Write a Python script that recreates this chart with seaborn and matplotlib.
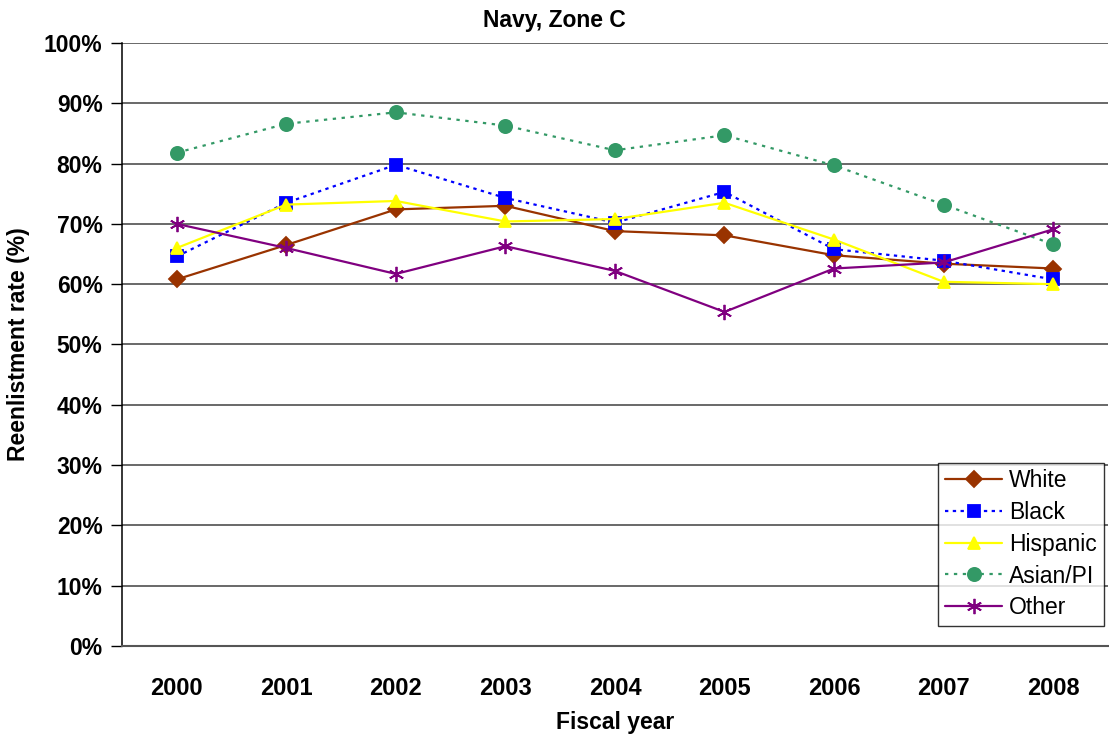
import pandas as pd
import matplotlib
matplotlib.use("Agg")
import matplotlib.pyplot as plt
import seaborn as sns

# values (%)
years = [2000, 2001, 2002, 2003, 2004, 2005, 2006, 2007, 2008]
white = [60.8, 66.5, 72.4, 73.0, 68.8, 68.1, 64.8, 63.4, 62.6]
black = [64.6, 73.5, 79.8, 74.3, 70.2, 75.3, 65.8, 63.9, 60.8]
hispanic = [66.0, 73.2, 73.8, 70.4, 70.8, 73.5, 67.4, 60.4, 60.0]
asian_pi = [81.8, 86.6, 88.5, 86.3, 82.2, 84.7, 79.7, 73.2, 66.6]
other = [70.0, 66.0, 61.7, 66.3, 62.2, 55.4, 62.6, 63.6, 69.1]

series = [
    ("White", white, "#993300", "D", 8, "-"),
    ("Black", black, "#0000FF", "s", 8.5, (0, (1.5, 2))),
    ("Hispanic", hispanic, "#FFFF00", "^", 9, "-"),
    ("Asian/PI", asian_pi, "#339966", "o", 9.5, (0, (1.5, 2.5))),
    ("Other", other, "#800080", (6, 2, 0), 11, "-"),
]

sns.set_style("white")
plt.rcParams["font.family"] = ["Liberation Sans", "DejaVu Sans"]
plt.rcParams["text.color"] = "black"
plt.rcParams["axes.labelcolor"] = "black"
plt.rcParams["xtick.color"] = "black"
plt.rcParams["ytick.color"] = "black"

fig = plt.figure(figsize=(11.09, 7.36), dpi=100)
ax = fig.add_axes([0.110, 0.1223, 0.889, 0.8193])

for name, vals, col, mk, ms, ls in series:
    df = pd.DataFrame({"year": years, "rate": vals})
    sns.lineplot(data=df, x="year", y="rate", ax=ax, color=col, marker=mk,
                 markersize=ms, linestyle=ls, linewidth=1.6, label=name,
                 markeredgecolor=col, markeredgewidth=1.3)

ax.set_ylim(0, 100)
ax.set_xlim(1999.5, 2008.5)
ax.set_yticks(range(0, 101, 10))
ax.set_yticklabels([f"{v}%" for v in range(0, 101, 10)], fontsize=16.5, fontweight="bold")
ax.set_xticks(years)
ax.set_xticklabels([str(y) for y in years], fontsize=17, fontweight="bold")
ax.tick_params(axis="x", which="major", length=0, pad=22)
ax.set_xticks([y + 0.5 for y in [1999] + years], minor=True)
ax.tick_params(axis="x", which="minor", length=8, width=1, color="#404040", direction="out")
ax.tick_params(axis="y", length=8, width=1, color="black", direction="out", pad=6, left=True)

for v in range(10, 101, 10):
    ax.axhline(v, color="#404040", linewidth=1.1, zorder=0)

for s in ["top", "right"]:
    ax.spines[s].set_visible(False)
ax.spines["left"].set_color("black")
ax.spines["left"].set_linewidth(1.1)
ax.spines["bottom"].set_color("#555555")
ax.spines["bottom"].set_linewidth(1.5)

ax.set_xlabel("Fiscal year", fontsize=16.5, fontweight="bold", labelpad=8)
ax.set_ylabel("Reenlistment rate (%)", fontsize=16.5, fontweight="bold", labelpad=10)
fig.text(0.5, 0.972, "Navy, Zone C", ha="center", va="center", fontsize=16.5, fontweight="bold")

leg = ax.legend(loc="lower right", bbox_to_anchor=(0.996, 0.033), borderaxespad=0,
                fontsize=16.5, frameon=True, fancybox=False, edgecolor="black",
                handlelength=2.5, borderpad=0.3, labelspacing=0.38, handletextpad=0.3)
leg.get_frame().set_linewidth(1.0)

fig.savefig("out.png", dpi=100)
